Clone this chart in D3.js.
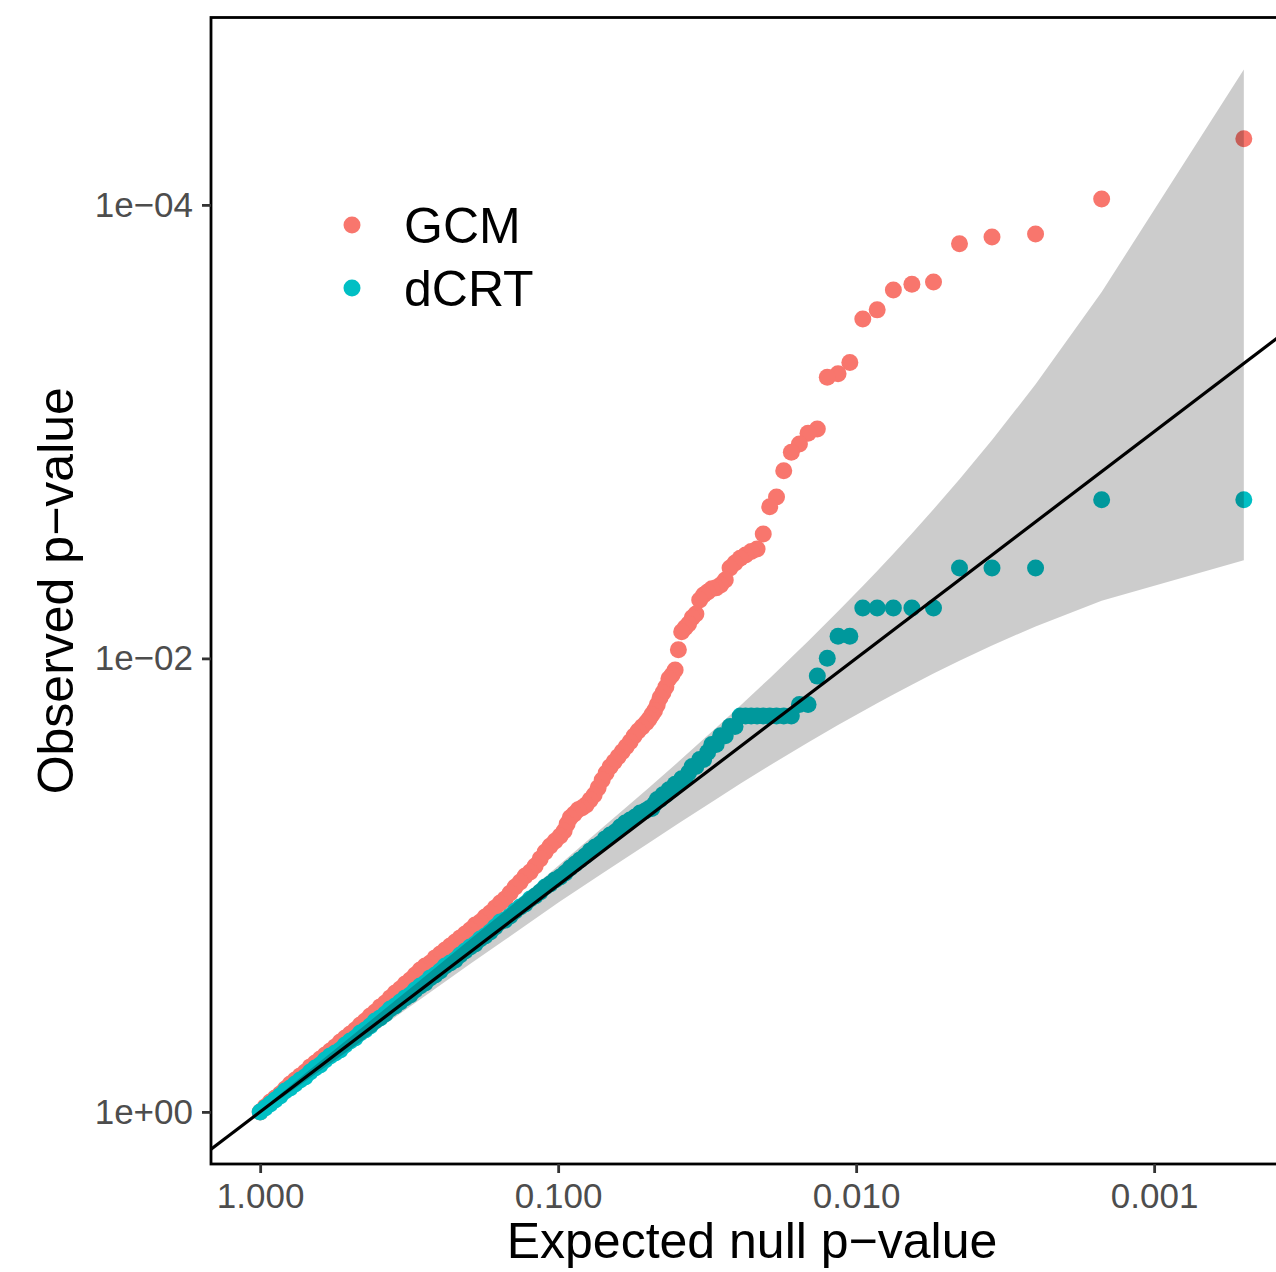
<!DOCTYPE html>
<html>
<head>
<meta charset="utf-8">
<script src="https://cdn.jsdelivr.net/npm/d3@7"></script>
<style>
  html, body { margin: 0; padding: 0; background: #ffffff; }
  svg { display: block; }
  text { font-family: "Liberation Sans", Arial, Helvetica, sans-serif; }
</style>
</head>
<body>
<svg id="chart" width="1276" height="1272"></svg>
<script>
// ---- data: -log10 of expected null p-values and observed p-values ----
const seriesNames = ["GCM", "dCRT"];

const gcmExpected = [3.3010, 2.8239, 2.6021, 2.4559, 2.3468, 2.2596, 2.1871, 2.1249, 2.0706, 2.0223,
  1.9788, 1.9393, 1.9031, 1.8697, 1.8386, 1.8097, 1.7825, 1.7570, 1.7328, 1.7100,
  1.6882, 1.6676, 1.6478, 1.6289, 1.6108, 1.5935, 1.5768, 1.5607, 1.5452, 1.5302,
  1.5157, 1.5017, 1.4881, 1.4750, 1.4622, 1.4498, 1.4377, 1.4260, 1.4145, 1.4034,
  1.3925, 1.3820, 1.3716, 1.3615, 1.3516, 1.3420, 1.3325, 1.3233, 1.3143, 1.3054,
  1.2953, 1.2819, 1.2685, 1.2550, 1.2416, 1.2282, 1.2148, 1.2013, 1.1879, 1.1745,
  1.1611, 1.1477, 1.1342, 1.1208, 1.1074, 1.0940, 1.0805, 1.0671, 1.0537, 1.0403,
  1.0302, 1.0201,
  1.0067, 0.9899, 0.9732, 0.9564, 0.9396, 0.9228, 0.9060, 0.8893, 0.8725, 0.8557,
  0.8389, 0.8221, 0.8054, 0.7886, 0.7718, 0.7550, 0.7383, 0.7215, 0.7047, 0.6879,
  0.6711, 0.6544, 0.6376, 0.6208, 0.6040, 0.5872, 0.5705, 0.5537, 0.5369, 0.5201,
  0.5034, 0.4866, 0.4698, 0.4530, 0.4362, 0.4195, 0.4027, 0.3859, 0.3691, 0.3523,
  0.3356, 0.3188, 0.3020, 0.2852, 0.2685, 0.2517, 0.2349, 0.2181, 0.2013, 0.1846,
  0.1678, 0.1510, 0.1342, 0.1174, 0.1007, 0.0839, 0.0671, 0.0503, 0.0336, 0.0168, 0.0000];

const gcmObserved = [4.292, 4.026, 3.872, 3.858, 3.829, 3.660, 3.650, 3.625, 3.537, 3.497,
  3.305, 3.255, 3.240, 3.012, 2.993, 2.945, 2.909, 2.828, 2.712, 2.669,
  2.549, 2.482, 2.471, 2.456, 2.442, 2.421, 2.399, 2.346, 2.324, 2.311,
  2.307, 2.293, 2.280, 2.258, 2.196, 2.179, 2.152, 2.135, 2.117, 2.038,
  1.949, 1.927, 1.910, 1.874, 1.848, 1.826, 1.795, 1.769, 1.751, 1.733,
  1.716, 1.698, 1.680, 1.658, 1.632, 1.610, 1.588, 1.566, 1.544, 1.522,
  1.495, 1.464, 1.429, 1.398, 1.376, 1.354, 1.341, 1.332, 1.314, 1.297,
  1.270, 1.239,
  1.2172, 1.1951, 1.1731, 1.1466, 1.1158, 1.0849, 1.0584, 1.0408, 1.0143, 0.9923,
  0.9658, 0.9394, 0.9217, 0.8997, 0.8776, 0.8600, 0.8379, 0.8247, 0.8026, 0.7850,
  0.7674, 0.7497, 0.7321, 0.7144, 0.6968, 0.6792, 0.6571, 0.6439, 0.6262, 0.6042,
  0.5821, 0.5645, 0.5424, 0.5248, 0.5028, 0.4807, 0.4631, 0.4410, 0.4234, 0.4013,
  0.3837, 0.3616, 0.3440, 0.3263, 0.3087, 0.2867, 0.2690, 0.2514, 0.2337, 0.2161,
  0.1985, 0.1764, 0.1588, 0.1411, 0.1235, 0.1014, 0.0794, 0.0617, 0.0441, 0.0221, 0.0000];

const dcrtExpected = [3.3010, 2.8239, 2.6021, 2.4559, 2.3468, 2.2596, 2.1871, 2.1249, 2.0706, 2.0223,
  1.9788, 1.9393, 1.9031, 1.8697, 1.8386, 1.8097, 1.7825, 1.7570, 1.7328, 1.7100,
  1.6882, 1.6676, 1.6478, 1.6289, 1.6108, 1.5935, 1.5768, 1.5607, 1.5452, 1.5302,
  1.5157, 1.5017, 1.4881, 1.4750, 1.4622, 1.4498, 1.4377, 1.4260, 1.4145, 1.4034,
  1.3925, 1.3820, 1.3716, 1.3615, 1.3516, 1.3420, 1.3325, 1.3233, 1.3143, 1.3054,
  1.2919, 1.2752, 1.2584, 1.2416, 1.2248, 1.2081, 1.1913, 1.1745, 1.1577, 1.1409,
  1.1242, 1.1074, 1.0906, 1.0738, 1.0570, 1.0403, 1.0235, 1.0067, 0.9899, 0.9732,
  0.9564, 0.9396, 0.9228, 0.9060, 0.8893, 0.8725, 0.8557, 0.8389, 0.8221, 0.8054,
  0.7886, 0.7718, 0.7550, 0.7383, 0.7215, 0.7047, 0.6879, 0.6711, 0.6544, 0.6376,
  0.6208, 0.6040, 0.5872, 0.5705, 0.5537, 0.5369, 0.5201, 0.5034, 0.4866, 0.4698,
  0.4530, 0.4362, 0.4195, 0.4027, 0.3859, 0.3691, 0.3523, 0.3356, 0.3188, 0.3020,
  0.2852, 0.2685, 0.2517, 0.2349, 0.2181, 0.2013, 0.1846, 0.1678, 0.1510, 0.1342,
  0.1174, 0.1007, 0.0839, 0.0671, 0.0503, 0.0336, 0.0168, 0.0000];

const dcrtObserved = [2.6998, 2.6998, 2.3988, 2.3988, 2.3988, 2.2227, 2.2227, 2.2227, 2.2227, 2.2227,
  2.0978, 2.0978, 2.0009, 1.9218, 1.7966, 1.7966, 1.7456, 1.7456, 1.7456, 1.7456,
  1.7456, 1.7456, 1.7456, 1.7456, 1.7456, 1.7000, 1.7000, 1.6584, 1.6584, 1.6206,
  1.6206, 1.5858, 1.5537, 1.5537, 1.5237, 1.5237, 1.4957, 1.4694, 1.4694, 1.4446,
  1.4446, 1.4211, 1.4211, 1.3988, 1.3988, 1.3776, 1.3776, 1.3574, 1.3381, 1.3381,
  1.3274, 1.3186, 1.3010, 1.2877, 1.2745, 1.2569, 1.2348, 1.2216, 1.2040, 1.1819,
  1.1687, 1.1511, 1.1290, 1.1114, 1.0937, 1.0761, 1.0540, 1.0364, 1.0232, 1.0055,
  0.9923, 0.9702, 0.9526, 0.9393, 0.9173, 0.9041, 0.8864, 0.8644, 0.8467, 0.8379,
  0.8159, 0.7938, 0.7762, 0.7629, 0.7409, 0.7277, 0.7100, 0.6924, 0.6703, 0.6571,
  0.6439, 0.6218, 0.6042, 0.5910, 0.5689, 0.5557, 0.5380, 0.5160, 0.5028, 0.4851,
  0.4675, 0.4542, 0.4322, 0.4146, 0.4013, 0.3793, 0.3616, 0.3484, 0.3263, 0.3131,
  0.2955, 0.2734, 0.2602, 0.2470, 0.2293, 0.2073, 0.1940, 0.1764, 0.1544, 0.1411,
  0.1235, 0.1058, 0.0926, 0.0706, 0.0529, 0.0353, 0.0176, 0.0000];

// 95% band around the null line (-log10 units)
const bandExpected = [3.3010, 2.8239, 2.6021, 2.4559, 2.3468, 2.2596, 2.1871, 2.1249, 2.0706, 2.0223,
  1.9393, 1.8386, 1.7100, 1.6108, 1.5302, 1.4034, 1.3054, 1.1580, 1.0022, 0.8254,
  0.7007, 0.5236, 0.3984, 0.3015, 0.1552, 0.0460, 0.0002];
const bandUpper = [4.5966, 3.6158, 3.2085, 2.9626, 2.7897, 2.6572, 2.5507, 2.4617, 2.3857, 2.3192,
  2.2075, 2.0759, 1.9129, 1.7910, 1.6938, 1.5439, 1.4305, 1.2636, 1.0872, 0.8901,
  0.7570, 0.5666, 0.4326, 0.3293, 0.1733, 0.0553, 0.0016];
const bandLower = [2.4331, 2.2540, 2.1411, 2.0572, 1.9896, 1.9330, 1.8841, 1.8409, 1.8024, 1.7674,
  1.7059, 1.6291, 1.5277, 1.4466, 1.3792, 1.2718, 1.1865, 1.0605, 0.9245, 0.7620,
  0.6486, 0.4840, 0.3667, 0.2753, 0.1380, 0.0373, 0.0000];

const xTickValues = [0, 1, 2, 3];
const xTickLabels = ["1.000", "0.100", "0.010", "0.001"];
const yTickValues = [0, 2, 4];
const yTickLabels = ["1e+00", "1e\u221202", "1e\u221204"];

// ---- styling ----
const colors = { GCM: "#F8766D", dCRT: "#00BFC4" };
const R = 8.5;

const svg = d3.select("#chart");
svg.append("rect").attr("width", 1276).attr("height", 1272).attr("fill", "#ffffff");

const panel = { left: 211, right: 1293, top: 17.5, bottom: 1164 };
const x = d3.scaleLinear().domain([-0.1650, 3.4660]).range([panel.left, panel.right]);
const y = d3.scaleLinear().domain([-0.2298, 4.8264]).range([panel.bottom, panel.top]);

svg.append("defs").append("clipPath").attr("id", "clip")
  .append("rect").attr("x", panel.left).attr("y", panel.top)
  .attr("width", panel.right - panel.left).attr("height", panel.bottom - panel.top);

const plot = svg.append("g").attr("clip-path", "url(#clip)");

const gcm = gcmExpected.map((e, i) => ({ e, o: gcmObserved[i] }));
const dcrt = dcrtExpected.map((e, i) => ({ e, o: dcrtObserved[i] }));

plot.append("g").selectAll("circle").data(gcm).join("circle")
  .attr("cx", d => x(d.e)).attr("cy", d => y(d.o)).attr("r", R)
  .attr("fill", colors.GCM);

plot.append("g").selectAll("circle").data(dcrt).join("circle")
  .attr("cx", d => x(d.e)).attr("cy", d => y(d.o)).attr("r", R)
  .attr("fill", colors.dCRT);

const band = bandExpected.map((e, i) => ({ e, up: bandUpper[i], lo: bandLower[i] }));
plot.append("path").datum(band)
  .attr("d", d3.area().x(d => x(d.e)).y0(d => y(d.lo)).y1(d => y(d.up)))
  .attr("fill", "#000000").attr("fill-opacity", 0.2);

const dom = x.domain();
plot.append("line")
  .attr("x1", x(dom[0])).attr("y1", y(dom[0]))
  .attr("x2", x(dom[1])).attr("y2", y(dom[1]))
  .attr("stroke", "#000000").attr("stroke-width", 3.2);

// panel border
svg.append("rect")
  .attr("x", panel.left).attr("y", panel.top)
  .attr("width", panel.right - panel.left).attr("height", panel.bottom - panel.top)
  .attr("fill", "none").attr("stroke", "#000000").attr("stroke-width", 2.8);

// axes
const xAxis = svg.append("g").attr("transform", `translate(0,${panel.bottom})`)
  .call(d3.axisBottom(x).tickValues(xTickValues)
    .tickFormat((d, i) => xTickLabels[i]).tickSize(9).tickPadding(10));
const yAxis = svg.append("g").attr("transform", `translate(${panel.left},0)`)
  .call(d3.axisLeft(y).tickValues(yTickValues)
    .tickFormat((d, i) => yTickLabels[i]).tickSize(9).tickPadding(9));

[xAxis, yAxis].forEach(g => {
  g.select(".domain").remove();
  g.selectAll(".tick line").attr("stroke", "#333333").attr("stroke-width", 2.8);
  g.selectAll(".tick text").attr("fill", "#4d4d4d")
    .style("font-size", "35px")
    .style("font-family", '"Liberation Sans", Arial, Helvetica, sans-serif');
});

// axis titles
svg.append("text").attr("x", (panel.left + panel.right) / 2).attr("y", 1258)
  .attr("text-anchor", "middle").attr("fill", "#000000")
  .style("font-size", "50px").text("Expected null p\u2212value");
svg.append("text")
  .attr("transform", `translate(73,${(panel.top + panel.bottom) / 2}) rotate(-90)`)
  .attr("text-anchor", "middle").attr("fill", "#000000")
  .style("font-size", "50px").text("Observed p\u2212value");

// legend
const legend = svg.append("g");
seriesNames.forEach((name, i) => {
  const cy = 225 + i * 63;
  legend.append("circle").attr("cx", 352).attr("cy", cy).attr("r", R).attr("fill", colors[name]);
  legend.append("text").attr("x", 404).attr("y", cy + 18)
    .attr("fill", "#000000").style("font-size", "50px").text(name);
});
</script>
</body>
</html>
